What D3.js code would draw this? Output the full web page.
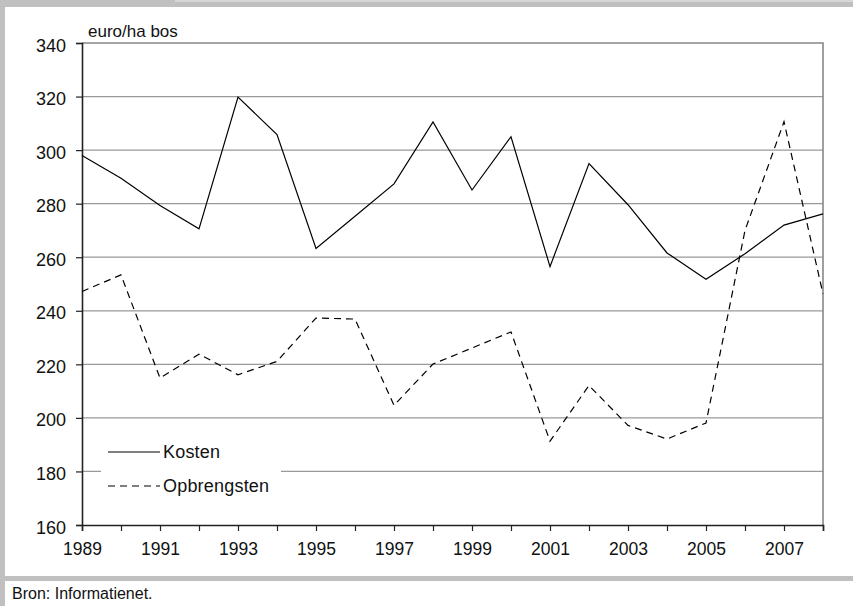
<!DOCTYPE html>
<html>
<head>
<meta charset="utf-8">
<script src="https://cdn.jsdelivr.net/npm/d3@7"></script>
<style>
  html, body { margin: 0; padding: 0; background: #c0c0c0; }
  svg { display: block; }
  text { font-family: "Liberation Sans", Arial, sans-serif; fill: #111; }
</style>
</head>
<body>
<script>
const years = [1989,1990,1991,1992,1993,1994,1995,1996,1997,1998,1999,2000,2001,2002,2003,2004,2005,2006,2007,2008];
const kosten = [298,289.5,279.3,270.6,319.8,305.8,263.3,275.3,287.4,310.5,285.1,305,256.5,295,279.6,261.6,251.8,261.3,272,276.2];
const opbrengsten = [247.2,253.4,214.9,223.8,216.1,221.1,237.3,236.9,204.7,220.1,226.1,232.1,191.3,212.1,197.2,192.1,198.1,270,310.6,246.3];
const yTicks = [160,180,200,220,240,260,280,300,320,340];
const xLabelYears = [1989,1991,1993,1995,1997,1999,2001,2003,2005,2007];
const seriesNames = ["Kosten","Opbrengsten"];
const unitLabel = "euro/ha bos";
const sourceText = "Bron: Informatienet.";

const W = 853, H = 606;
const svg = d3.select("body").append("svg").attr("width", W).attr("height", H);

// frame
svg.append("rect").attr("x",0).attr("y",0).attr("width",W).attr("height",H).attr("fill","#c0c0c0");
svg.append("rect").attr("x",175).attr("y",0).attr("width",W-175).attr("height",2).attr("fill","#d6d6d6");
svg.append("rect").attr("x",5).attr("y",7).attr("width",W-5).attr("height",569).attr("fill","#fff");
svg.append("rect").attr("x",5).attr("y",581).attr("width",W-5).attr("height",25).attr("fill","#fff");

const x = d3.scaleLinear().domain([1989,2008]).range([82,823]);
const y = d3.scaleLinear().domain([160,340]).range([525,43]);

// gridlines
svg.append("g").selectAll("line").data(yTicks.filter(v => v>160 && v<340)).join("line")
  .attr("x1", x(1989)).attr("x2", x(2008))
  .attr("y1", d => y(d)).attr("y2", d => y(d))
  .attr("stroke","#999").attr("stroke-width",1.2);
// top & right border
svg.append("path")
  .attr("d", `M${x(1989)},${y(340)}H${x(2008)}V${y(160)}`)
  .attr("fill","none").attr("stroke","#888").attr("stroke-width",1.6);

// y axis
const yAxis = d3.axisLeft(y).tickValues(yTicks).tickSize(6).tickPadding(10).tickFormat(d3.format("d"));
const gy = svg.append("g").attr("transform",`translate(${x(1989)},0)`).call(yAxis);
gy.select(".domain").attr("stroke","#222").attr("stroke-width",1.6);
gy.selectAll(".tick line").attr("stroke","#222").attr("stroke-width",1.2);
gy.selectAll(".tick text").attr("font-size",18).attr("fill","#111").attr("dy","0.45em")
  .attr("font-family",'"Liberation Sans", Arial, sans-serif');

// x axis
const xAxis = d3.axisBottom(x).tickValues(years).tickSize(6).tickPadding(12)
  .tickFormat(d => xLabelYears.includes(d) ? String(d) : "");
const gx = svg.append("g").attr("transform",`translate(0,${y(160)})`).call(xAxis);
gx.select(".domain").attr("stroke","#222").attr("stroke-width",1.6);
gx.selectAll(".tick line").attr("stroke","#222").attr("stroke-width",1.2);
gx.selectAll(".tick text").attr("font-size",17.5).attr("fill","#111")
  .attr("font-family",'"Liberation Sans", Arial, sans-serif');

// lines
const line = d3.line().x((d,i) => x(years[i])).y(d => y(d));
svg.append("path").datum(kosten).attr("d", line).attr("fill","none")
  .attr("stroke","#000").attr("stroke-width",1.2);
svg.append("path").datum(opbrengsten).attr("d", line).attr("fill","none")
  .attr("stroke","#000").attr("stroke-width",1.2).attr("stroke-dasharray","7,5");

// unit label
svg.append("text").attr("x",88).attr("y",31).attr("dominant-baseline","central")
  .attr("font-size",17).text(unitLabel);

// legend
const lg = svg.append("g");
lg.append("rect").attr("x",101).attr("y",440).attr("width",180).attr("height",58).attr("fill","#fff");
const legY = [452, 486];
const dashes = [null, "7,5"];
seriesNames.forEach((name,i) => {
  lg.append("line").attr("x1",108).attr("x2",160).attr("y1",legY[i]).attr("y2",legY[i])
    .attr("stroke","#000").attr("stroke-width",1.2).attr("stroke-dasharray",dashes[i]);
  lg.append("text").attr("x",163).attr("y",legY[i]).attr("dominant-baseline","central")
    .attr("font-size",18).attr("letter-spacing","0.2px").text(name);
});

// source
svg.append("text").attr("x",12).attr("y",593).attr("dominant-baseline","central")
  .attr("font-size",16).text(sourceText);
</script>
</body>
</html>
